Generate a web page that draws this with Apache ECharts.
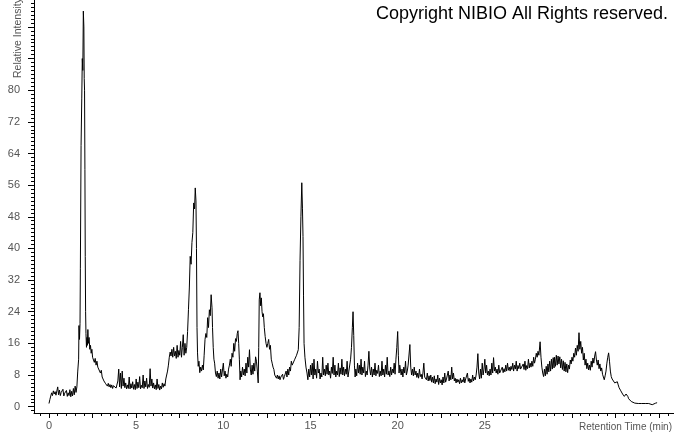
<!DOCTYPE html>
<html>
<head>
<meta charset="utf-8">
<script src="https://cdn.jsdelivr.net/npm/echarts@6/dist/echarts.min.js"></script>
<style>html,body{margin:0;padding:0;background:#fff}#c{width:674px;height:434px}</style>
</head>
<body>
<div id="c"></div>
<script>
// Tick labels
var xTickLabels = [0, 5, 10, 15, 20, 25];
var yTickLabels = [0, 8, 16, 24, 32, 40, 48, 56, 64, 72, 80];
var xAxisName = 'Retention Time (min)';
var yAxisName = 'Relative Intensity';
var copyrightText = 'Copyright NIBIO All Rights reserved.';

// Chromatogram trace: [retention time (min), relative intensity]
var seg0to5 = [[0,0.8],[0.05,1.8],[0.1,2.2],[0.15,3.5],[0.2,2.8],[0.25,4.0],[0.3,3.2],[0.35,3.8],[0.4,2.9],[0.45,3.3],[0.5,5.0],[0.55,3.0],[0.6,4.2],[0.65,2.8],[0.7,3.6],[0.75,3.1],[0.8,4.4],[0.85,2.7],[0.9,3.4],[0.95,2.9],[1.0,4.1],[1.05,2.6],[1.1,3.5],[1.15,2.8],[1.2,4.3],[1.25,2.5],[1.3,3.9],[1.35,2.7],[1.4,4.6],[1.45,3.0],[1.5,5.2],[1.55,3.6],[1.6,5.0],
[1.65,9.0],[1.7,12],[1.72,20.5],[1.75,17],[1.78,21],[1.8,35],[1.84,66],[1.88,78],[1.91,88],[1.94,85],[1.97,100],[2.0,96],[2.02,83],[2.04,80],[2.06,60],[2.08,38],[2.1,24],[2.12,18.5],[2.15,15],[2.18,17.5],[2.2,15.5],[2.23,19.5],[2.26,16],[2.3,17.5],[2.34,14.5],[2.38,15.5],[2.42,13.5],[2.46,14.5],[2.5,12.5],[2.55,13],[2.6,11.2],[2.65,12.2],[2.7,10.5],[2.75,11.5],[2.8,10],[2.85,9.5],[2.9,10.5],[2.95,8.5],[3.0,9.2],[3.05,7.5],[3.1,8.0],[3.15,6.5],[3.2,7.0],[3.25,5.8],[3.3,6.3],[3.35,5.2],[3.4,5.9],[3.45,5.0],[3.5,5.6],
[3.55,4.8],[3.6,5.5],[3.65,4.6],[3.7,5.3],[3.75,4.9],[3.8,5.6],[3.85,4.7],[3.9,5.2],[3.95,6.5],[4.0,9.5],[4.05,5.0],[4.1,8.5],[4.15,4.6],[4.2,9.0],[4.25,5.2],[4.3,7.2],[4.35,4.8],[4.4,6.0],[4.45,4.5],[4.5,5.5],[4.55,4.6],[4.6,7.5],[4.65,4.5],[4.7,5.8],[4.75,4.7],[4.8,6.3],[4.85,4.4],[4.9,5.6],[4.95,4.3]];
var seg5to10 = [[5.0,7.0],[5.05,4.6],[5.1,6.2],[5.15,4.8],[5.2,7.6],[5.25,4.5],[5.3,5.4],[5.35,4.8],[5.4,8.0],[5.45,4.6],[5.5,6.5],[5.55,5.0],[5.6,7.2],[5.65,4.6],[5.7,5.6],[5.75,4.9],[5.8,9.6],[5.85,5.2],[5.9,7.0],[5.95,4.7],[6.0,6.0],[6.05,4.5],[6.1,5.5],[6.15,4.3],[6.2,7.0],[6.25,4.6],[6.3,5.6],[6.35,4.2],[6.4,5.2],[6.45,4.5],[6.5,6.0],[6.55,4.9],[6.6,5.8],[6.65,5.2],[6.7,7.0],[6.75,6.8],[6.8,9.0],[6.85,10.5],[6.9,12.5],[6.95,13.8],[7.0,12.8],[7.05,14.5],[7.1,12.5],[7.15,15.0],[7.2,12.8],[7.25,14.0],[7.3,12.2],[7.35,15.5],[7.4,12.5],[7.45,14.2],[7.5,13.0],[7.55,16.5],[7.6,12.5],[7.65,15.0],[7.7,18.2],[7.75,13.0],[7.8,16.0],[7.85,13.5],[7.9,15.0],[7.95,19.0],
[8.0,24.5],[8.05,30],[8.1,38],[8.15,36],[8.2,41.5],[8.25,44],[8.3,51.5],[8.35,50],[8.39,55.3],[8.43,52],[8.46,40],[8.49,20],[8.52,13.6],[8.56,10.2],[8.6,11.5],[8.65,8.6],[8.7,10.0],[8.75,9.0],[8.8,10.5],[8.85,9.3],[8.9,13.0],[8.95,17.0],[9.0,18.5],[9.05,17.5],[9.1,22.5],[9.15,20.0],[9.2,24.5],[9.25,23.0],[9.3,28.3],[9.35,25],[9.38,20],[9.42,15.0],[9.46,12.0],[9.5,11.0],[9.55,8.5],[9.6,7.6],[9.65,9.0],[9.7,7.2],[9.75,8.5],[9.8,7.0],[9.85,9.5],[9.9,7.5],[9.95,8.0]];
var seg10to15 = [[10.0,11.0],[10.05,7.8],[10.1,9.0],[10.15,7.2],[10.2,8.2],[10.25,7.5],[10.3,9.5],[10.35,10.5],[10.4,12.0],[10.45,10.2],[10.5,13.5],[10.55,12.5],[10.6,16.0],[10.65,14.0],[10.7,17.2],[10.75,16.5],[10.8,18.5],[10.84,19.2],[10.88,16.0],[10.92,12.0],[10.96,6.8],[11.0,9.0],
[11.05,7.5],[11.1,10.0],[11.15,8.0],[11.2,9.5],[11.25,7.8],[11.3,11.0],[11.35,8.5],[11.4,12.5],[11.45,10.0],[11.5,14.4],[11.55,9.5],[11.6,8.0],[11.65,10.5],[11.7,8.2],[11.75,11.0],[11.8,9.0],[11.85,12.6],[11.9,11.5],[11.95,9.0],[12.0,6.0],[12.03,15],[12.06,27],[12.1,28.8],[12.14,25.5],[12.18,27.5],[12.22,24.0],[12.26,22.7],[12.3,23.5],[12.35,20.0],[12.4,17.7],[12.45,16.0],[12.5,15.0],[12.55,16.0],[12.6,17.0],[12.65,14.5],[12.7,15.5],[12.75,12.0],[12.8,11.0],[12.85,10.0],[12.9,9.4],[12.95,8.0],
[13.0,8.5],[13.05,7.2],[13.1,8.0],[13.15,7.0],[13.2,7.8],[13.25,6.8],[13.3,7.5],[13.35,7.0],[13.4,8.2],[13.45,6.9],[13.5,7.6],[13.55,7.2],[13.6,9.0],[13.65,7.5],[13.7,9.5],[13.75,8.0],[13.8,10.0],[13.85,9.0],[13.9,11.5],[13.95,10.5],[14.0,11.0],[14.05,10.0],[14.1,12.0],[14.15,11.5],[14.2,13.0],[14.25,12.5],[14.3,14.4],[14.35,20],[14.4,37],[14.45,48],[14.5,56.6],[14.54,50],[14.57,43],[14.6,28],[14.63,16.0],[14.68,12.5],[14.74,10.0],[14.8,8.5],[14.85,6.8],[14.9,9.5],[14.95,7.5]];
var seg15to20 = [[15.0,10.5],[15.05,8.0],[15.1,11.0],[15.15,7.0],[15.2,12.0],[15.25,8.0],[15.3,9.5],[15.35,7.2],[15.4,11.5],[15.45,8.5],[15.5,9.5],[15.55,7.0],[15.6,8.5],[15.65,7.5],[15.7,12.5],[15.75,8.0],[15.8,9.5],[15.85,7.8],[15.9,10.5],[15.95,8.2],[16.0,11.0],[16.05,8.0],[16.1,9.0],[16.15,7.2],[16.2,10.0],[16.25,8.4],[16.3,12.5],[16.35,8.0],[16.4,10.5],[16.45,7.5],[16.5,9.0],[16.55,8.0],[16.6,11.0],[16.65,7.6],[16.7,9.8],[16.75,8.2],[16.8,12.0],[16.85,8.0],[16.9,10.0],[16.95,7.8],[17.0,9.5],[17.05,8.2],[17.1,11.5],[17.15,7.5],[17.2,9.0],[17.25,8.5],[17.3,12.0],[17.35,15.0],[17.4,20.0],[17.44,24.0],[17.48,18.0],[17.52,10.5],[17.56,7.5],[17.6,9.5],[17.65,7.8],[17.7,11.0],[17.75,8.5],[17.8,10.5],[17.85,8.2],[17.9,12.0],[17.95,8.0],
[18.0,10.0],[18.05,8.5],[18.1,11.5],[18.15,7.6],[18.2,9.0],[18.25,8.0],[18.3,10.5],[18.35,14.0],[18.4,9.5],[18.45,8.0],[18.5,10.0],[18.55,7.5],[18.6,9.5],[18.65,8.0],[18.7,11.0],[18.75,7.8],[18.8,9.2],[18.85,8.4],[18.9,10.5],[18.95,7.6],[19.0,9.0],[19.05,7.8],[19.1,11.5],[19.15,8.0],[19.2,9.5],[19.25,7.5],[19.3,10.5],[19.35,8.2],[19.4,12.5],[19.45,8.0],[19.5,9.0],[19.55,7.6],[19.6,10.0],[19.65,8.0],[19.7,9.5],[19.75,8.5],[19.8,11.0],[19.85,8.2],[19.9,12.0],[19.95,15.0]];
var seg20to25 = [[20.0,19.0],[20.04,13.0],[20.08,8.5],[20.12,10.5],[20.2,8.0],[20.25,9.5],[20.3,7.5],[20.35,10.0],[20.4,8.5],[20.45,11.5],[20.5,8.0],[20.55,9.0],[20.6,10.5],[20.65,11.0],[20.7,15.7],[20.75,10.0],[20.8,8.0],[20.85,9.5],[20.9,7.8],[20.95,10.0],[21.0,8.0],[21.05,9.0],[21.1,7.4],[21.15,8.5],[21.2,7.2],[21.25,9.5],[21.3,7.6],[21.35,8.2],[21.4,7.0],[21.45,8.5],[21.5,11.0],[21.55,7.5],[21.6,8.0],[21.65,6.8],[21.7,8.5],[21.75,6.5],[21.8,7.8],[21.85,6.6],[21.9,8.0],[21.95,6.2],
[22.0,7.5],[22.05,6.0],[22.1,7.8],[22.15,5.8],[22.2,7.0],[22.25,6.2],[22.3,8.0],[22.35,5.6],[22.4,7.2],[22.45,6.0],[22.5,6.8],[22.55,5.5],[22.6,7.5],[22.65,6.0],[22.7,8.5],[22.75,6.2],[22.8,7.0],[22.85,6.5],[22.9,9.0],[22.95,6.5],[23.0,8.0],[23.05,6.8],[23.1,10.0],[23.15,7.0],[23.2,8.5],[23.25,6.5],[23.3,7.2],[23.35,6.0],[23.4,7.0],[23.45,6.2],[23.5,6.8],[23.55,5.8],[23.6,7.2],[23.65,6.0],[23.7,6.8],[23.75,6.2],[23.8,7.5],[23.85,6.0],[23.9,7.0],[23.95,6.5],
[24.0,8.5],[24.05,6.4],[24.1,7.2],[24.15,6.0],[24.2,7.0],[24.25,6.2],[24.3,8.0],[24.35,6.5],[24.4,7.5],[24.45,6.8],[24.5,8.0],[24.55,10.0],[24.6,13.4],[24.65,8.5],[24.7,7.0],[24.75,9.5],[24.8,7.2],[24.85,11.0],[24.9,8.0],[24.95,9.5]];
var seg25to30 = [[25.0,12.0],[25.05,8.5],[25.1,10.5],[25.15,8.0],[25.2,9.0],[25.25,7.8],[25.3,9.5],[25.35,8.0],[25.4,11.0],[25.45,8.5],[25.5,12.4],[25.55,9.0],[25.6,10.0],[25.65,8.5],[25.7,9.5],[25.75,8.2],[25.8,10.5],[25.85,8.5],[25.9,9.0],[25.95,8.8],[26.0,10.0],[26.05,8.6],[26.1,9.6],[26.15,8.8],[26.2,10.5],[26.25,9.0],[26.3,11.0],[26.35,9.2],[26.4,10.0],[26.45,9.0],[26.5,10.2],[26.55,9.4],[26.6,11.0],[26.65,9.0],[26.7,10.5],[26.75,9.5],[26.8,11.5],[26.85,9.0],[26.9,10.4],[26.95,9.6],
[27.0,11.0],[27.05,9.5],[27.1,10.0],[27.15,9.0],[27.2,10.8],[27.25,9.4],[27.3,11.5],[27.35,9.2],[27.4,10.4],[27.45,9.6],[27.5,12.0],[27.55,9.8],[27.6,11.0],[27.65,10.0],[27.7,11.5],[27.75,10.2],[27.8,12.5],[27.85,11.0],[27.9,12.0],[27.95,13.5],[28.0,12.5],[28.05,14.0],[28.1,13.0],[28.17,16.4],[28.22,12.5],[28.27,10.0],[28.32,8.5],[28.37,7.6],[28.42,9.5],[28.47,7.8],[28.52,10.2],[28.57,8.2],[28.62,10.8],[28.67,8.8],[28.72,11.5],[28.77,9.0],[28.82,12.0],[28.87,9.5],[28.92,12.4],[28.97,9.8],
[29.0,12.5],[29.05,10.2],[29.1,13.0],[29.15,10.5],[29.2,12.8],[29.25,10.8],[29.3,12.6],[29.35,9.8],[29.4,12.0],[29.45,9.4],[29.5,11.6],[29.55,9.0],[29.6,11.2],[29.65,8.8],[29.7,10.8],[29.75,8.6],[29.8,10.5],[29.85,9.5],[29.9,11.8],[29.95,10.8]];
var seg30to35 = [[30.0,12.5],[30.05,11.5],[30.1,13.5],[30.15,12.5],[30.2,14.8],[30.25,13.0],[30.3,15.5],[30.35,14.0],[30.4,18.7],[30.45,14.5],[30.5,16.5],[30.55,13.5],[30.6,15.0],[30.65,11.8],[30.7,13.5],[30.75,10.5],[30.8,12.0],[30.85,9.6],[30.9,11.0],[30.95,9.3],[31.0,10.5],[31.05,9.2],[31.1,11.5],[31.15,10.0],[31.2,12.3],[31.25,11.0],[31.3,12.8],[31.35,13.9],[31.4,11.8],[31.45,10.5],[31.5,11.8],[31.55,9.6],[31.6,10.8],[31.65,9.0],[31.7,9.8],[31.75,8.2],[31.8,8.6],[31.85,6.8],[31.9,7.8],[31.95,9.0],
[32.0,11.0],[32.05,12.5],[32.1,13.6],[32.15,11.5],[32.2,9.0],[32.25,7.6],[32.3,7.0],[32.35,6.5],[32.4,6.8],[32.45,6.0],[32.5,6.3],[32.55,5.8],[32.6,6.3],[32.65,5.5],[32.7,4.8],[32.75,4.3],[32.8,4.0],[32.85,3.6],[32.9,3.2],[32.95,2.9],[33.0,2.6],[33.05,2.5],[33.1,3.2],[33.15,3.5],[33.2,2.6],[33.25,2.0],[33.3,1.8],[33.4,1.3],[33.5,1.0],[33.6,0.9],[33.8,0.8],[34.0,0.8],[34.2,0.8],[34.4,0.8],[34.5,0.6],[34.6,0.5],[34.7,0.7],[34.8,0.9],[34.88,1.0]];

var trace = [].concat(seg0to5, seg5to10, seg10to15, seg15to20, seg20to25, seg25to30, seg30to35);

// tick positions (axis decoration)
var xMajorTicks = [], xMinorTicks = [], yMajorTicks = [], yMinorTicks = [];
for (var i = 0; i <= 14; i++) xMajorTicks.push(i * 2.5);
for (var j = -1; j <= 71; j++) xMinorTicks.push(j * 0.5);
for (var k = 0; k <= 12; k++) yMajorTicks.push(k * 8);
for (var m = -1; m <= 102; m++) yMinorTicks.push(m);

var X_MIN = -0.86, X_MAX = 35.85, Y_MIN = -1.6, Y_MAX = 102.8;
var axisColor = '#000';
var labelColor = '#555';
var font = 'Liberation Sans, Arial, sans-serif';

var chart = echarts.init(document.getElementById('c'), null, {renderer: 'canvas'});
chart.setOption({
  animation: false,
  backgroundColor: '#fff',
  grid: {left: 34, right: 0, top: 0, bottom: 21, containLabel: false},
  xAxis: [{
    type: 'value', min: X_MIN, max: X_MAX, position: 'bottom',
    axisLine: {show: true, onZero: false, lineStyle: {color: axisColor, width: 1}},
    axisTick: {show: true, length: 5, inside: false, customValues: xMajorTicks, lineStyle: {color: axisColor}},
    axisLabel: {show: true, customValues: xTickLabels, margin: 7, color: labelColor, fontSize: 11, fontFamily: font},
    splitLine: {show: false}
  }, {
    type: 'value', min: X_MIN, max: X_MAX, position: 'bottom',
    axisLine: {show: false, onZero: false},
    axisTick: {show: true, length: 3, inside: false, customValues: xMinorTicks, lineStyle: {color: axisColor}},
    axisLabel: {show: false},
    splitLine: {show: false}
  }],
  yAxis: [{
    type: 'value', min: Y_MIN, max: Y_MAX, position: 'left',
    axisLine: {show: true, onZero: false, lineStyle: {color: axisColor, width: 1}},
    axisTick: {show: true, length: 6, inside: false, customValues: yMajorTicks, lineStyle: {color: axisColor}},
    axisLabel: {show: true, customValues: yTickLabels, margin: 14, color: labelColor, fontSize: 11, fontFamily: font},
    splitLine: {show: false}
  }, {
    type: 'value', min: Y_MIN, max: Y_MAX, position: 'left',
    axisLine: {show: false, onZero: false},
    axisTick: {show: true, length: 3, inside: false, customValues: yMinorTicks, lineStyle: {color: axisColor}},
    axisLabel: {show: false},
    splitLine: {show: false}
  }],
  series: [{
    type: 'line', xAxisIndex: 0, yAxisIndex: 0,
    data: trace, showSymbol: false, symbol: 'none', smooth: false,
    lineStyle: {color: '#000', width: 1}
  }],
  graphic: [
    {type: 'text', right: 6, top: 5, style: {text: copyrightText, fill: '#000', fontSize: 18, fontFamily: font}},
    {type: 'text', x: 672, y: 427, style: {text: xAxisName, fill: labelColor, fontSize: 10, fontFamily: font, align: 'right', verticalAlign: 'middle'}},
    {type: 'text', x: 18, y: 78, rotation: Math.PI / 2, style: {text: yAxisName, fill: labelColor, fontSize: 10.5, fontFamily: font, align: 'left', verticalAlign: 'middle'}}
  ]
});
</script>
</body>
</html>
